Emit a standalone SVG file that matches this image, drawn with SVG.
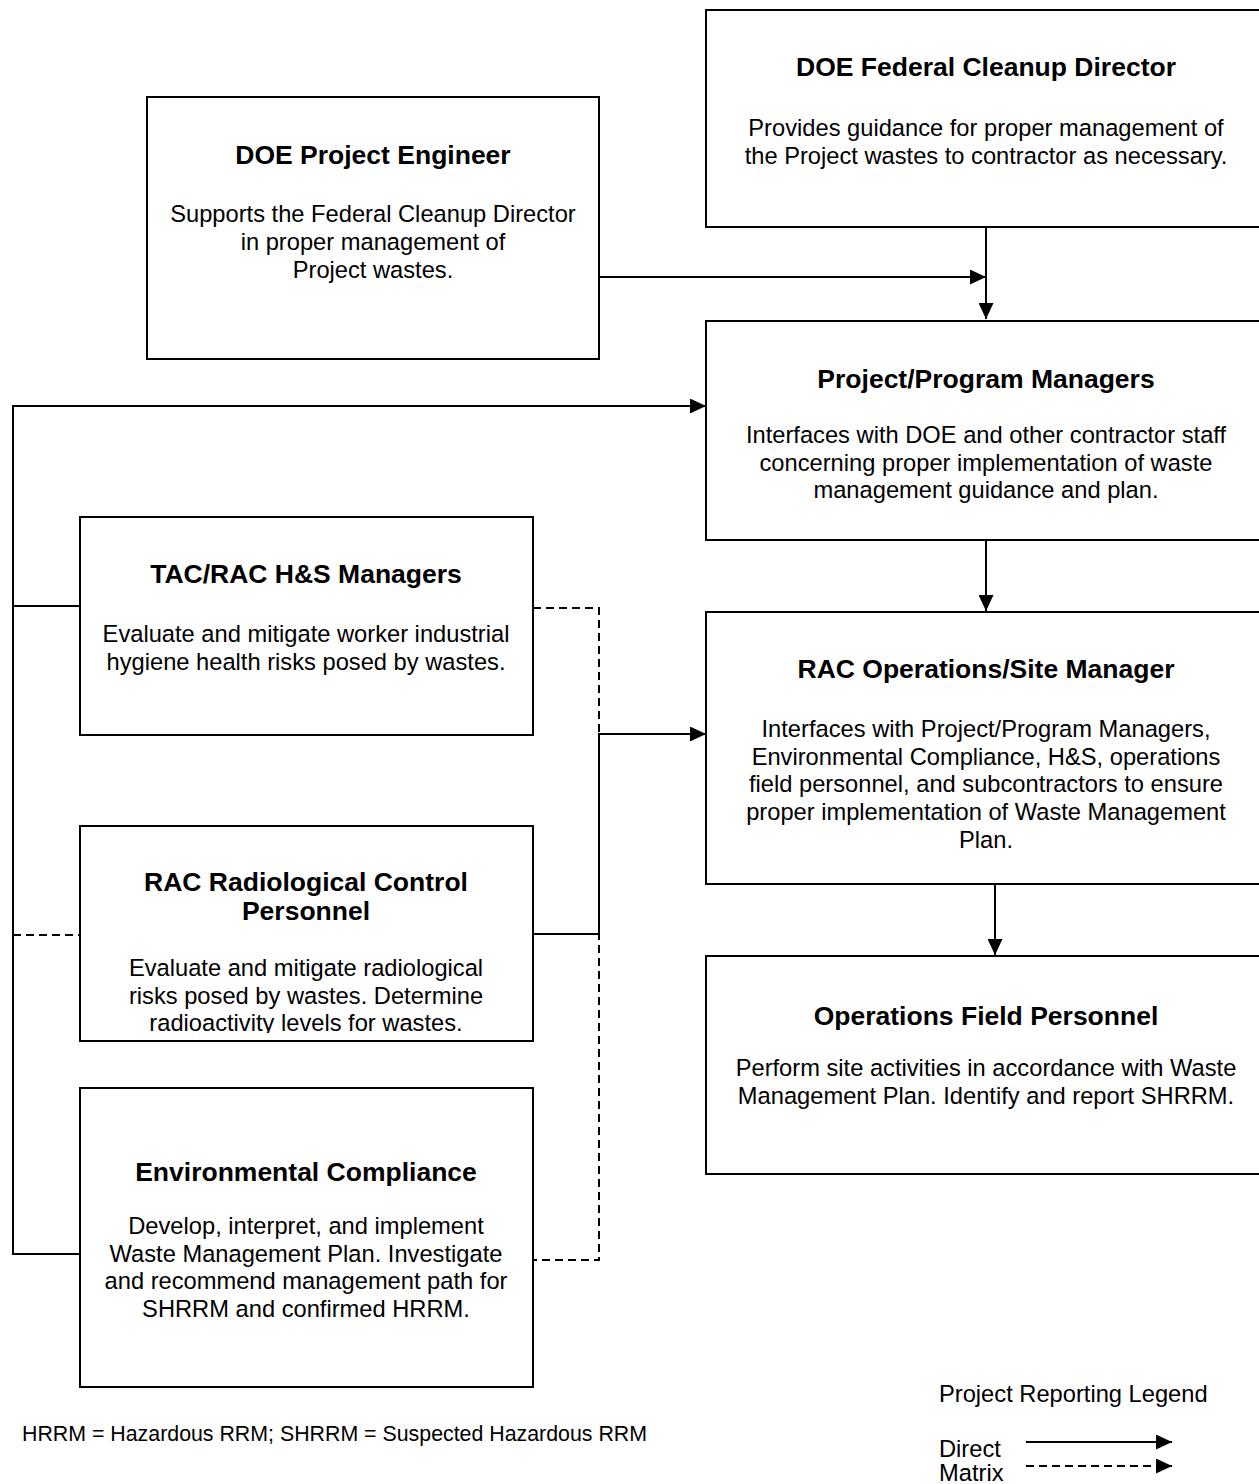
<svg xmlns="http://www.w3.org/2000/svg" width="1259" height="1484" viewBox="0 0 1259 1484">
<style>
.box{fill:#fff;stroke:#000;stroke-width:2}
.t{font-family:"Liberation Sans",Arial,sans-serif;font-size:26.5px;font-weight:bold;text-anchor:middle;fill:#000}
.b{font-family:"Liberation Sans",Arial,sans-serif;font-size:23.7px;text-anchor:middle;fill:#000}
.l{font-family:"Liberation Sans",Arial,sans-serif;font-size:23.7px;fill:#000}
.c{fill:none;stroke:#000;stroke-width:2}
.d{fill:none;stroke:#000;stroke-width:2;stroke-dasharray:8 5}
</style>
<defs>
<marker id="ah" markerWidth="16" markerHeight="15" refX="16" refY="7.5" orient="auto" markerUnits="userSpaceOnUse">
<path d="M0,0 L16,7.5 L0,15 z" fill="#000"/>
</marker>
<clipPath id="radclip"><rect x="80" y="826" width="454" height="207"/></clipPath>
</defs>
<rect width="1259" height="1484" fill="#fff"/>

<g id="fed-cleanup-director">
<rect class="box" x="706" y="10" width="560" height="217"/>
<text class="t" x="986" y="76">DOE Federal Cleanup Director</text>
<text class="b" x="986" y="136">Provides guidance for proper management of</text>
<text class="b" x="986" y="164">the Project wastes to contractor as necessary.</text>
</g>

<g id="project-engineer">
<rect class="box" x="147" y="97" width="452" height="262"/>
<text class="t" x="373" y="164">DOE Project Engineer</text>
<text class="b" x="373" y="222">Supports the Federal Cleanup Director</text>
<text class="b" x="373" y="250">in proper management of</text>
<text class="b" x="373" y="278">Project wastes.</text>
</g>

<g id="program-managers">
<rect class="box" x="706" y="321" width="560" height="219"/>
<text class="t" x="986" y="388">Project/Program Managers</text>
<text class="b" x="986" y="443">Interfaces with DOE and other contractor staff</text>
<text class="b" x="986" y="471">concerning proper implementation of waste</text>
<text class="b" x="986" y="498">management guidance and plan.</text>
</g>

<g id="hs-managers">
<rect class="box" x="80" y="517" width="453" height="218"/>
<text class="t" x="306" y="583">TAC/RAC H&amp;S Managers</text>
<text class="b" x="306" y="642">Evaluate and mitigate worker industrial</text>
<text class="b" x="306" y="670">hygiene health risks posed by wastes.</text>
</g>

<g id="ops-site-manager">
<rect class="box" x="706" y="612" width="560" height="272"/>
<text class="t" x="986" y="678">RAC Operations/Site Manager</text>
<text class="b" x="986" y="737">Interfaces with Project/Program Managers,</text>
<text class="b" x="986" y="765">Environmental Compliance, H&amp;S, operations</text>
<text class="b" x="986" y="792">field personnel, and subcontractors to ensure</text>
<text class="b" x="986" y="820">proper implementation of Waste Management</text>
<text class="b" x="986" y="848">Plan.</text>
</g>

<g id="rad-control">
<rect class="box" x="80" y="826" width="453" height="215"/>
<text class="t" x="306" y="891">RAC Radiological Control</text>
<text class="t" x="306" y="920">Personnel</text>
<text class="b" x="306" y="976">Evaluate and mitigate radiological</text>
<text class="b" x="306" y="1004">risks posed by wastes. Determine</text>
<text class="b" x="306" y="1031" clip-path="url(#radclip)">radioactivity levels for wastes.</text>
</g>

<g id="field-personnel">
<rect class="box" x="706" y="956" width="560" height="218"/>
<text class="t" x="986" y="1025">Operations Field Personnel</text>
<text class="b" x="986" y="1076">Perform site activities in accordance with Waste</text>
<text class="b" x="986" y="1104">Management Plan. Identify and report SHRRM.</text>
</g>

<g id="env-compliance">
<rect class="box" x="80" y="1088" width="453" height="299"/>
<text class="t" x="306" y="1181">Environmental Compliance</text>
<text class="b" x="306" y="1234">Develop, interpret, and implement</text>
<text class="b" x="306" y="1262">Waste Management Plan. Investigate</text>
<text class="b" x="306" y="1289">and recommend management path for</text>
<text class="b" x="306" y="1317">SHRRM and confirmed HRRM.</text>
</g>

<g id="connectors">
<path class="c" d="M599,277 H986" marker-end="url(#ah)"/>
<path class="c" d="M986,227 V319" marker-end="url(#ah)"/>
<path class="c" d="M986,540 V611" marker-end="url(#ah)"/>
<path class="c" d="M995,884 V955" marker-end="url(#ah)"/>
<path class="c" d="M80,1254 H13 V406 H706" marker-end="url(#ah)"/>
<path class="c" d="M13,606 H80"/>
<path class="d" d="M13,935 H80"/>
<path class="d" d="M533,608 H599 V1260 H533"/>
<path class="c" d="M533,934 H599 V734 H706" marker-end="url(#ah)"/>
</g>

<g id="legend">
<text class="l" x="939" y="1402">Project Reporting Legend</text>
<text class="l" x="939" y="1457">Direct</text>
<text class="l" x="939" y="1481">Matrix</text>
<path class="c" d="M1026,1442 H1172" marker-end="url(#ah)"/>
<path class="d" d="M1026,1466 H1172" marker-end="url(#ah)"/>
</g>

<text id="footnote" x="22" y="1441" font-family="'Liberation Sans Narrow','Liberation Sans',Arial,sans-serif" font-size="22" textLength="625" lengthAdjust="spacingAndGlyphs" fill="#000">HRRM = Hazardous RRM; SHRRM = Suspected Hazardous RRM</text>
</svg>
